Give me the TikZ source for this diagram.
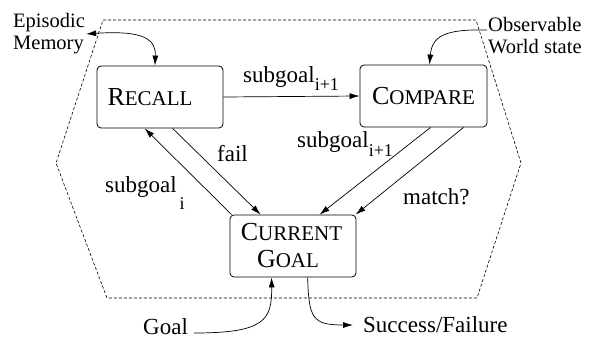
\documentclass[tikz,border=0pt]{standalone}
\usepackage{fontspec}
\setmainfont{Liberation Serif}
\usetikzlibrary{arrows.meta,calc}
\newcommand\scx[2]{{\fontsize{26}{27}\selectfont #1}{\fontsize{21}{27}\selectfont #2}}
\newcommand\subx[2]{\raisebox{-#1}{\fontsize{18}{18}\selectfont #2}}
\tikzset{
  box/.style={draw, rounded corners=4pt, minimum width=126pt, minimum height=62pt, inner sep=0pt, line width=0.8pt, align=center, font=\fontsize{26}{27}\selectfont},
  arr/.style={-{Latex[length=10pt,width=6pt]}, line width=0.7pt},
  darr/.style={{Latex[length=10pt,width=6pt]}-{Latex[length=10pt,width=6pt]}, line width=0.7pt},
  lbl/.style={inner sep=0pt, anchor=base west, font=\fontsize{23}{26}\selectfont},
  note/.style={inner sep=1pt, align=left, font=\fontsize{20.5}{22}\selectfont},
  hull/.style={dash pattern=on 3pt off 2pt, line width=0.6pt}
}
\begin{document}
\begin{tikzpicture}[x=1pt,y=-1pt]
\useasboundingbox (0,0) rectangle (595,339);
% dashed hull
\draw[hull] (103,20) -- (476,20) -- (521,163) -- (477,298) -- (107,298) -- (56,163) -- cycle;
% boxes
\node[box] (recall) at (160,97) {\scx{R}{ECALL}\hspace*{20pt}};
\node[box, minimum width=127pt] (compare) at (423.5,96) {\scx{C}{OMPARE}};
\node[box] (current) at (293,246) {\scx{C}{URRENT}\hspace*{3pt}\\\scx{G}{OAL}\hspace*{10pt}};
% external texts
\node[note, anchor=west] (epi) at (12,34) {Episodic\\Memory};
\node[note, anchor=west] (obs) at (487,36) {Observable\\World state};
\node[lbl] (goal) at (143,335) {Goal};
\node[lbl] (succ) at (363,333) {Success/Failure};
% connectors
\draw[arr] (recall.east) -- (compare.west);
\draw[arr] ($(current.north west)+(2,0)$) -- ($(recall.south west)+(48,0)$);
\draw[arr] ($(recall.south west)+(76,0)$) -- ($(current.north west)+(31,0)$);
\draw[arr] ($(compare.south west)+(71,0)$) -- ($(current.north west)+(90,0)$);
\draw[arr] ($(compare.south west)+(104,0)$) -- ($(current.north west)+(126,0)$);
\draw[darr] (epi.east) .. controls (145,30) and (156,40) .. ($(recall.north)+(-5,0)$);
\draw[arr] ($(obs.west)+(0,-6)$) .. controls (445,29) and (432,36) .. ($(compare.north)+(6,0)$);
\draw[arr] ($(goal.base east)+(6,-2)$) .. controls (265,333) and (272,320) .. ($(current.south west)+(42,0)$);
\draw[arr] ($(current.south west)+(78,0)$) .. controls (309,318) and (312,325) .. ($(succ.base west)+(-10,-8)$);
% labels
\node[lbl] (l1) at (243,83) {subgoal\subx{8pt}{i+1}};
\node[lbl] (l2) at (217,162) {fail};
\node[lbl] (l3) at (105,193) {subgoal\hspace{3pt}\subx{17pt}{i}};
\node[lbl] (l4) at (297,148) {subgoal\subx{9pt}{i+1}};
\node[lbl] (l5) at (403,205) {match?};
\end{tikzpicture}
\end{document}
